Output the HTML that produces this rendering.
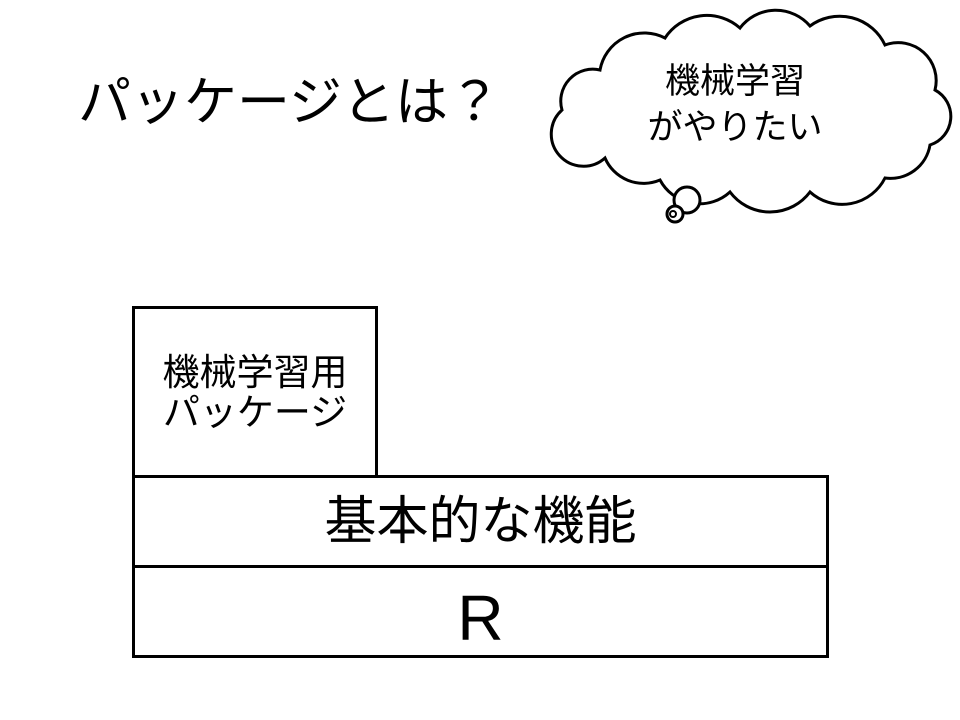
<!DOCTYPE html>
<html><head><meta charset="utf-8"><style>
html,body{margin:0;padding:0;background:#fff}
body{width:960px;height:720px;position:relative;overflow:hidden;font-family:"Liberation Sans","Noto Sans CJK JP",sans-serif;color:#000}
.t{position:absolute;white-space:nowrap}
.box{position:absolute;border:3px solid #000;box-sizing:border-box;background:#fff}
</style></head><body>
<div class="t" style="left:78px;top:70px;font-size:53px;line-height:66px">パッケージとは？</div>
<svg width="960" height="720" style="position:absolute;left:0;top:0">
<path d="M562,110 A32,32 0 0 1 600,70 A45,45 0 0 1 665,38 A50,50 0 0 1 740,28 A45,45 0 0 1 810,26 A50,50 0 0 1 885,45 A38,38 0 0 1 935,90 A30,30 0 0 1 930,145 A40,40 0 0 1 885,178 A48,48 0 0 1 810,192 A50,50 0 0 1 730,192 A45,45 0 0 1 660,180 A42,42 0 0 1 605,158 A32,32 0 0 1 562,110 Z" fill="#fff" stroke="#000" stroke-width="3"/>
<circle cx="687" cy="200" r="13" fill="#fff" stroke="#000" stroke-width="3"/>
<circle cx="675" cy="214" r="8" fill="#fff" stroke="#000" stroke-width="3"/>
<circle cx="673" cy="214" r="3" fill="none" stroke="#000" stroke-width="2"/>
</svg>
<div class="t" style="left:645px;top:59px;width:180px;text-align:center;font-size:35px;line-height:46px">機械学習<br>がやりたい</div>
<div class="box" style="left:132px;top:306px;width:246px;height:173px"></div>
<div class="box" style="left:132px;top:475px;width:697px;height:94px"></div>
<div class="box" style="left:132px;top:565px;width:697px;height:93px"></div>
<div class="t" style="left:132px;top:353px;width:246px;text-align:center;font-size:37px;line-height:40px">機械学習用<br>パッケージ</div>
<div class="t" style="left:132px;top:490px;width:697px;text-align:center;font-size:52px;line-height:64px">基本的な機能</div>
<div class="t" style="left:132px;top:580px;width:697px;text-align:center;font-size:64px;line-height:76px">R</div>
</body></html>
